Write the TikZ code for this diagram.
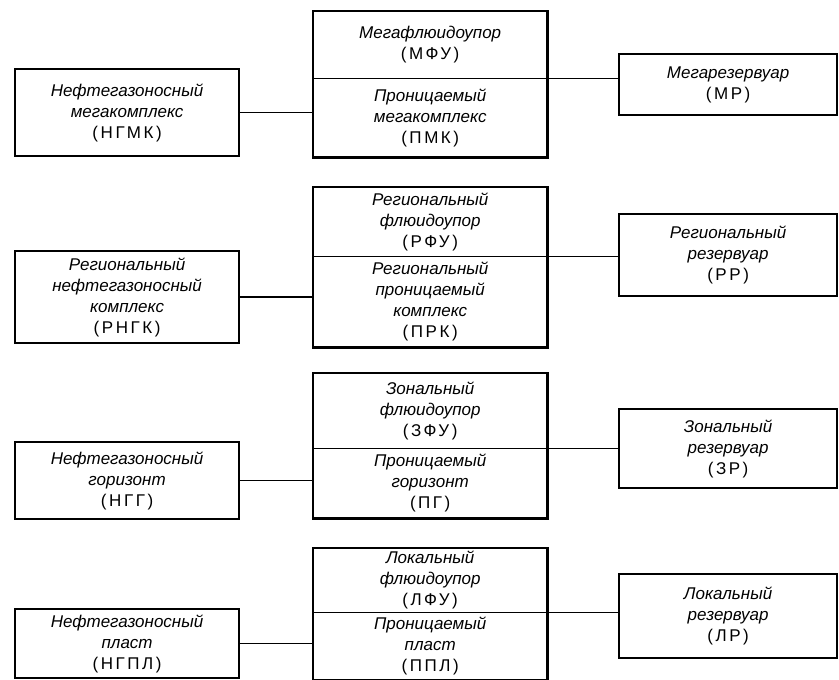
\documentclass[tikz,border=0pt]{standalone}
\usepackage{fontspec}
\setmainfont{Liberation Sans}
\usetikzlibrary{positioning}
\newcommand{\abbr}[1]{{\upshape\addfontfeature{LetterSpace=15}(#1)}}

\tikzset{every node/.append style={align=center}}
\tikzset{
  box/.style={draw, line width=2.2pt, inner sep=0pt,
              font=\itshape\fontsize{17}{21}\selectfont},
  part/.style={inner sep=0pt, minimum width=234pt,
               font=\itshape\fontsize{17}{21}\selectfont},
  frame/.style={line width=2.2pt},
  link/.style={line width=1.5pt}
}

\begin{document}
\begin{tikzpicture}[x=1pt,y=-1pt]
\useasboundingbox (0,0) rectangle (839,680);

% ── four levels: accumulation complex | seal + permeable part | reservoir ──
\foreach \r/\lt/\lb/\mt/\md/\mb/\rt/\rb/\ltxt/\utxt/\btxt/\rtxt in {
  1/68/155/11/78/157/53/114/{Нефтегазоносный\\мегакомплекс\\\abbr{НГМК}}/{Мегафлюидоупор\\\abbr{МФУ}}/{Проницаемый\\мегакомплекс\\\abbr{ПМК}}/{Мегарезервуар\\\abbr{МР}},
  2/250/342/187/256/347/213/295/{Региональный\\нефтегазоносный\\комплекс\\\abbr{РНГК}}/{Региональный\\флюидоупор\\\abbr{РФУ}}/{Региональный\\проницаемый\\комплекс\\\abbr{ПРК}}/{Региональный\\резервуар\\\abbr{РР}},
  3/441/518/373/448/518/408/487/{Нефтегазоносный\\горизонт\\\abbr{НГГ}}/{Зональный\\флюидоупор\\\abbr{ЗФУ}}/{Проницаемый\\горизонт\\\abbr{ПГ}}/{Зональный\\резервуар\\\abbr{ЗР}},
  4/608/677/548/612/680/573/657/{Нефтегазоносный\\пласт\\\abbr{НГПЛ}}/{Локальный\\флюидоупор\\\abbr{ЛФУ}}/{Проницаемый\\пласт\\\abbr{ППЛ}}/{Локальный\\резервуар\\\abbr{ЛР}}}
{
  % Complex box (left)
  \node[box, anchor=north west, minimum width=224pt,
        minimum height={(\lb-\lt)*1pt}] (cplx\r) at (14,\lt) {\ltxt};

  % Seal and permeable part (middle)
  \node[part, anchor=north west, minimum height={(\md-\mt)*1pt}]
       (seal\r) at (313,\mt) {\utxt};
  \node[part, anchor=north west, minimum height={(\mb-\md)*1pt}]
       (perm\r) at (313,\md) {\btxt};
  \draw[frame] (seal\r.north west) rectangle (perm\r.south east);
  \draw[link]  (seal\r.south west) -- (seal\r.south east);

  % Reservoir box (right)
  \node[box, anchor=north west, minimum width=218pt,
        minimum height={(\rb-\rt)*1pt}] (resv\r) at (618,\rt) {\rtxt};

  % Connectors
  \draw[link] (cplx\r.east) -- (cplx\r.east -| perm\r.west);
  \draw[link] (seal\r.south east) -- (seal\r.south east -| resv\r.west);
}

\end{tikzpicture}
\end{document}
